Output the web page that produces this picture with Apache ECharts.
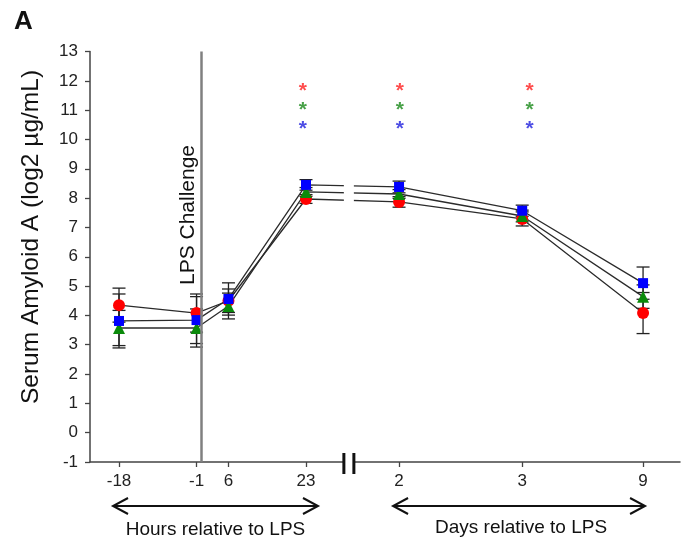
<!DOCTYPE html>
<html>
<head>
<meta charset="utf-8">
<script src="https://cdn.jsdelivr.net/npm/echarts@6/dist/echarts.min.js"></script>
<style>
  html, body { margin: 0; padding: 0; background: #fff; }
  #chart { width: 683px; height: 544px; }
</style>
</head>
<body>
<div id="chart"></div>
<script>
// time points: hours before/after LPS, then days after LPS (placed after an axis break)
const timeLabels = ['-18', '-1', '6', '23', '2', '3', '9']
const timePos = [-18, -1, 6, 23, 43.4, 70.4, 96.9]
const breakPos = 32.4

const redMean = [4.35, 4.08, 4.5, 7.97, 7.87, 7.29, 4.08]
const redErr = [0.58, 0.65, 0.4, 0.15, 0.18, 0.24, 0.7]
const greenMean = [3.57, 3.57, 4.32, 8.21, 8.14, 7.39, 4.64]
const greenErr = [0.6, 0.65, 0.44, 0.15, 0.15, 0.2, 0.4]
const blueMean = [3.81, 3.84, 4.56, 8.45, 8.38, 7.57, 5.1]
const blueErr = [0.92, 0.8, 0.55, 0.18, 0.2, 0.19, 0.55]

// significance asterisks
const starPos = [22.3, 43.6, 72]
const starRed = 11.75
const starGreen = 11.1
const starBlue = 10.46

const lineColor = '#2b2b2b'
const font = 'Liberation Sans, Arial, sans-serif'

function points(mean) {
  return timePos.map((x, i) => [x, mean[i]])
}

function errData(mean, err) {
  return timePos.map((x, i) => [x, mean[i] - err[i], mean[i] + err[i]])
}

function errSeries(mean, err) {
  return {
    type: 'custom',
    z: 1,
    silent: true,
    data: errData(mean, err),
    encode: { x: 0, y: [1, 2] },
    renderItem(params, api) {
      const x = api.value(0)
      const top = api.coord([x, api.value(2)])
      const bot = api.coord([x, api.value(1)])
      const w = 6.5
      const style = { stroke: '#222', lineWidth: 1.3 }
      return {
        type: 'group',
        children: [
          { type: 'line', shape: { x1: top[0], y1: top[1], x2: bot[0], y2: bot[1] }, style },
          { type: 'line', shape: { x1: top[0] - w, y1: top[1], x2: top[0] + w, y2: top[1] }, style },
          { type: 'line', shape: { x1: bot[0] - w, y1: bot[1], x2: bot[0] + w, y2: bot[1] }, style },
        ],
      }
    },
  }
}

function lineSeries(mean, color, symbol, size) {
  return {
    type: 'line',
    z: 3,
    data: points(mean),
    symbol,
    symbolSize: size,
    showAllSymbol: true,
    itemStyle: { color, opacity: 1 },
    lineStyle: { color: lineColor, width: 1.3 },
    emphasis: { disabled: true },
  }
}

function starSeries(y, color) {
  return {
    type: 'scatter',
    z: 4,
    symbol: 'circle',
    symbolSize: 1,
    itemStyle: { color: 'rgba(0,0,0,0)' },
    data: starPos.map(x => [x, y]),
    label: {
      show: true,
      position: 'inside',
      formatter: '*',
      color,
      fontSize: 21,
      fontWeight: 'bold',
      fontFamily: font,
      offset: [0, 3],
    },
  }
}

const myChart = echarts.init(document.getElementById('chart'))

myChart.setOption({
  animation: false,
  grid: { left: 90, right: 3, top: 51.5, bottom: 82, containLabel: false },
  xAxis: {
    type: 'value',
    min: -24.36,
    max: 105,
    splitLine: { show: false },
    axisLine: { show: true, onZero: false, lineStyle: { color: '#444', width: 1.5 } },
    axisTick: { show: true, customValues: timePos, length: 5, lineStyle: { color: '#444', width: 1.3 } },
    axisLabel: {
      customValues: timePos,
      formatter: v => timeLabels[timePos.indexOf(v)],
      fontSize: 17,
      fontFamily: font,
      color: '#222',
      margin: 11,
    },
  },
  yAxis: {
    type: 'value',
    min: -1,
    max: 13,
    interval: 1,
    splitLine: { show: false },
    axisLine: { show: true, onZero: false, lineStyle: { color: '#444', width: 1.5 } },
    axisTick: { show: true, length: 5, lineStyle: { color: '#444', width: 1.3 } },
    axisLabel: { fontSize: 17, fontFamily: font, color: '#222', margin: 12 },
  },
  series: [
    errSeries(redMean, redErr),
    errSeries(greenMean, greenErr),
    errSeries(blueMean, blueErr),
    Object.assign(lineSeries(redMean, '#ff0000', 'circle', 12), {
      markLine: {
        silent: true,
        symbol: 'none',
        label: { show: false },
        lineStyle: { color: '#808080', width: 2.5, type: 'solid' },
        data: [{ xAxis: 0 }],
      },
    }),
    lineSeries(greenMean, '#0a8a0a', 'triangle', 12),
    lineSeries(blueMean, '#0000ff', 'rect', 10),
    starSeries(starRed, '#ff2020'),
    starSeries(starGreen, '#1a8a1a'),
    starSeries(starBlue, '#2020dd'),
  ],
})

// annotations positioned through the axis scale
const px = v => myChart.convertToPixel({ xAxisIndex: 0 }, v)
const py = v => myChart.convertToPixel({ yAxisIndex: 0 }, v)

const bx = px(breakPos)
const axisY = py(-1)
const topY = py(13)

function arrow(x1, x2, y) {
  const style = { stroke: '#111', lineWidth: 2, fill: null }
  return [
    { type: 'line', shape: { x1, y1: y, x2, y2: y }, style },
    { type: 'polyline', shape: { points: [[x1 + 15, y - 8], [x1, y], [x1 + 15, y + 8]] }, style },
    { type: 'polyline', shape: { points: [[x2 - 15, y - 8], [x2, y], [x2 - 15, y + 8]] }, style },
  ]
}

const arrowY = 506
const textStyle = (text, size) => ({ text, fill: '#111', font: `${size}px ${font}`, align: 'center', verticalAlign: 'middle' })

myChart.setOption({
  graphic: [
    { type: 'rect', z: 50, shape: { x: bx - 5, y: topY, width: 10, height: axisY - topY + 2 }, style: { fill: '#fff' } },
    { type: 'rect', z: 51, shape: { x: bx - 6.5, y: axisY - 9, width: 3, height: 21 }, style: { fill: '#111' } },
    { type: 'rect', z: 51, shape: { x: bx + 3.5, y: axisY - 9, width: 3, height: 21 }, style: { fill: '#111' } },
    { type: 'text', z: 52, left: 14, top: 9, style: { text: 'A', fill: '#111', font: `bold 26px ${font}` } },
    { type: 'text', z: 52, x: 31, y: 237, rotation: Math.PI / 2, style: textStyle('Serum Amyloid A (log2 µg/mL)', 24.5) },
    { type: 'text', z: 52, x: 188, y: 215, rotation: Math.PI / 2, style: textStyle('LPS Challenge', 21) },
    ...arrow(px(timePos[0]) - 6, px(timePos[3]) + 12, arrowY),
    ...arrow(px(timePos[4]) - 6, px(timePos[6]) + 2, arrowY),
    { type: 'text', z: 52, x: (px(timePos[0]) + px(timePos[3])) / 2 + 3, y: 530, style: textStyle('Hours relative to LPS', 19) },
    { type: 'text', z: 52, x: (px(timePos[4]) + px(timePos[6])) / 2, y: 528, style: textStyle('Days relative to LPS', 19) },
  ],
})

window.addEventListener('resize', () => myChart.resize())
</script>
</body>
</html>
